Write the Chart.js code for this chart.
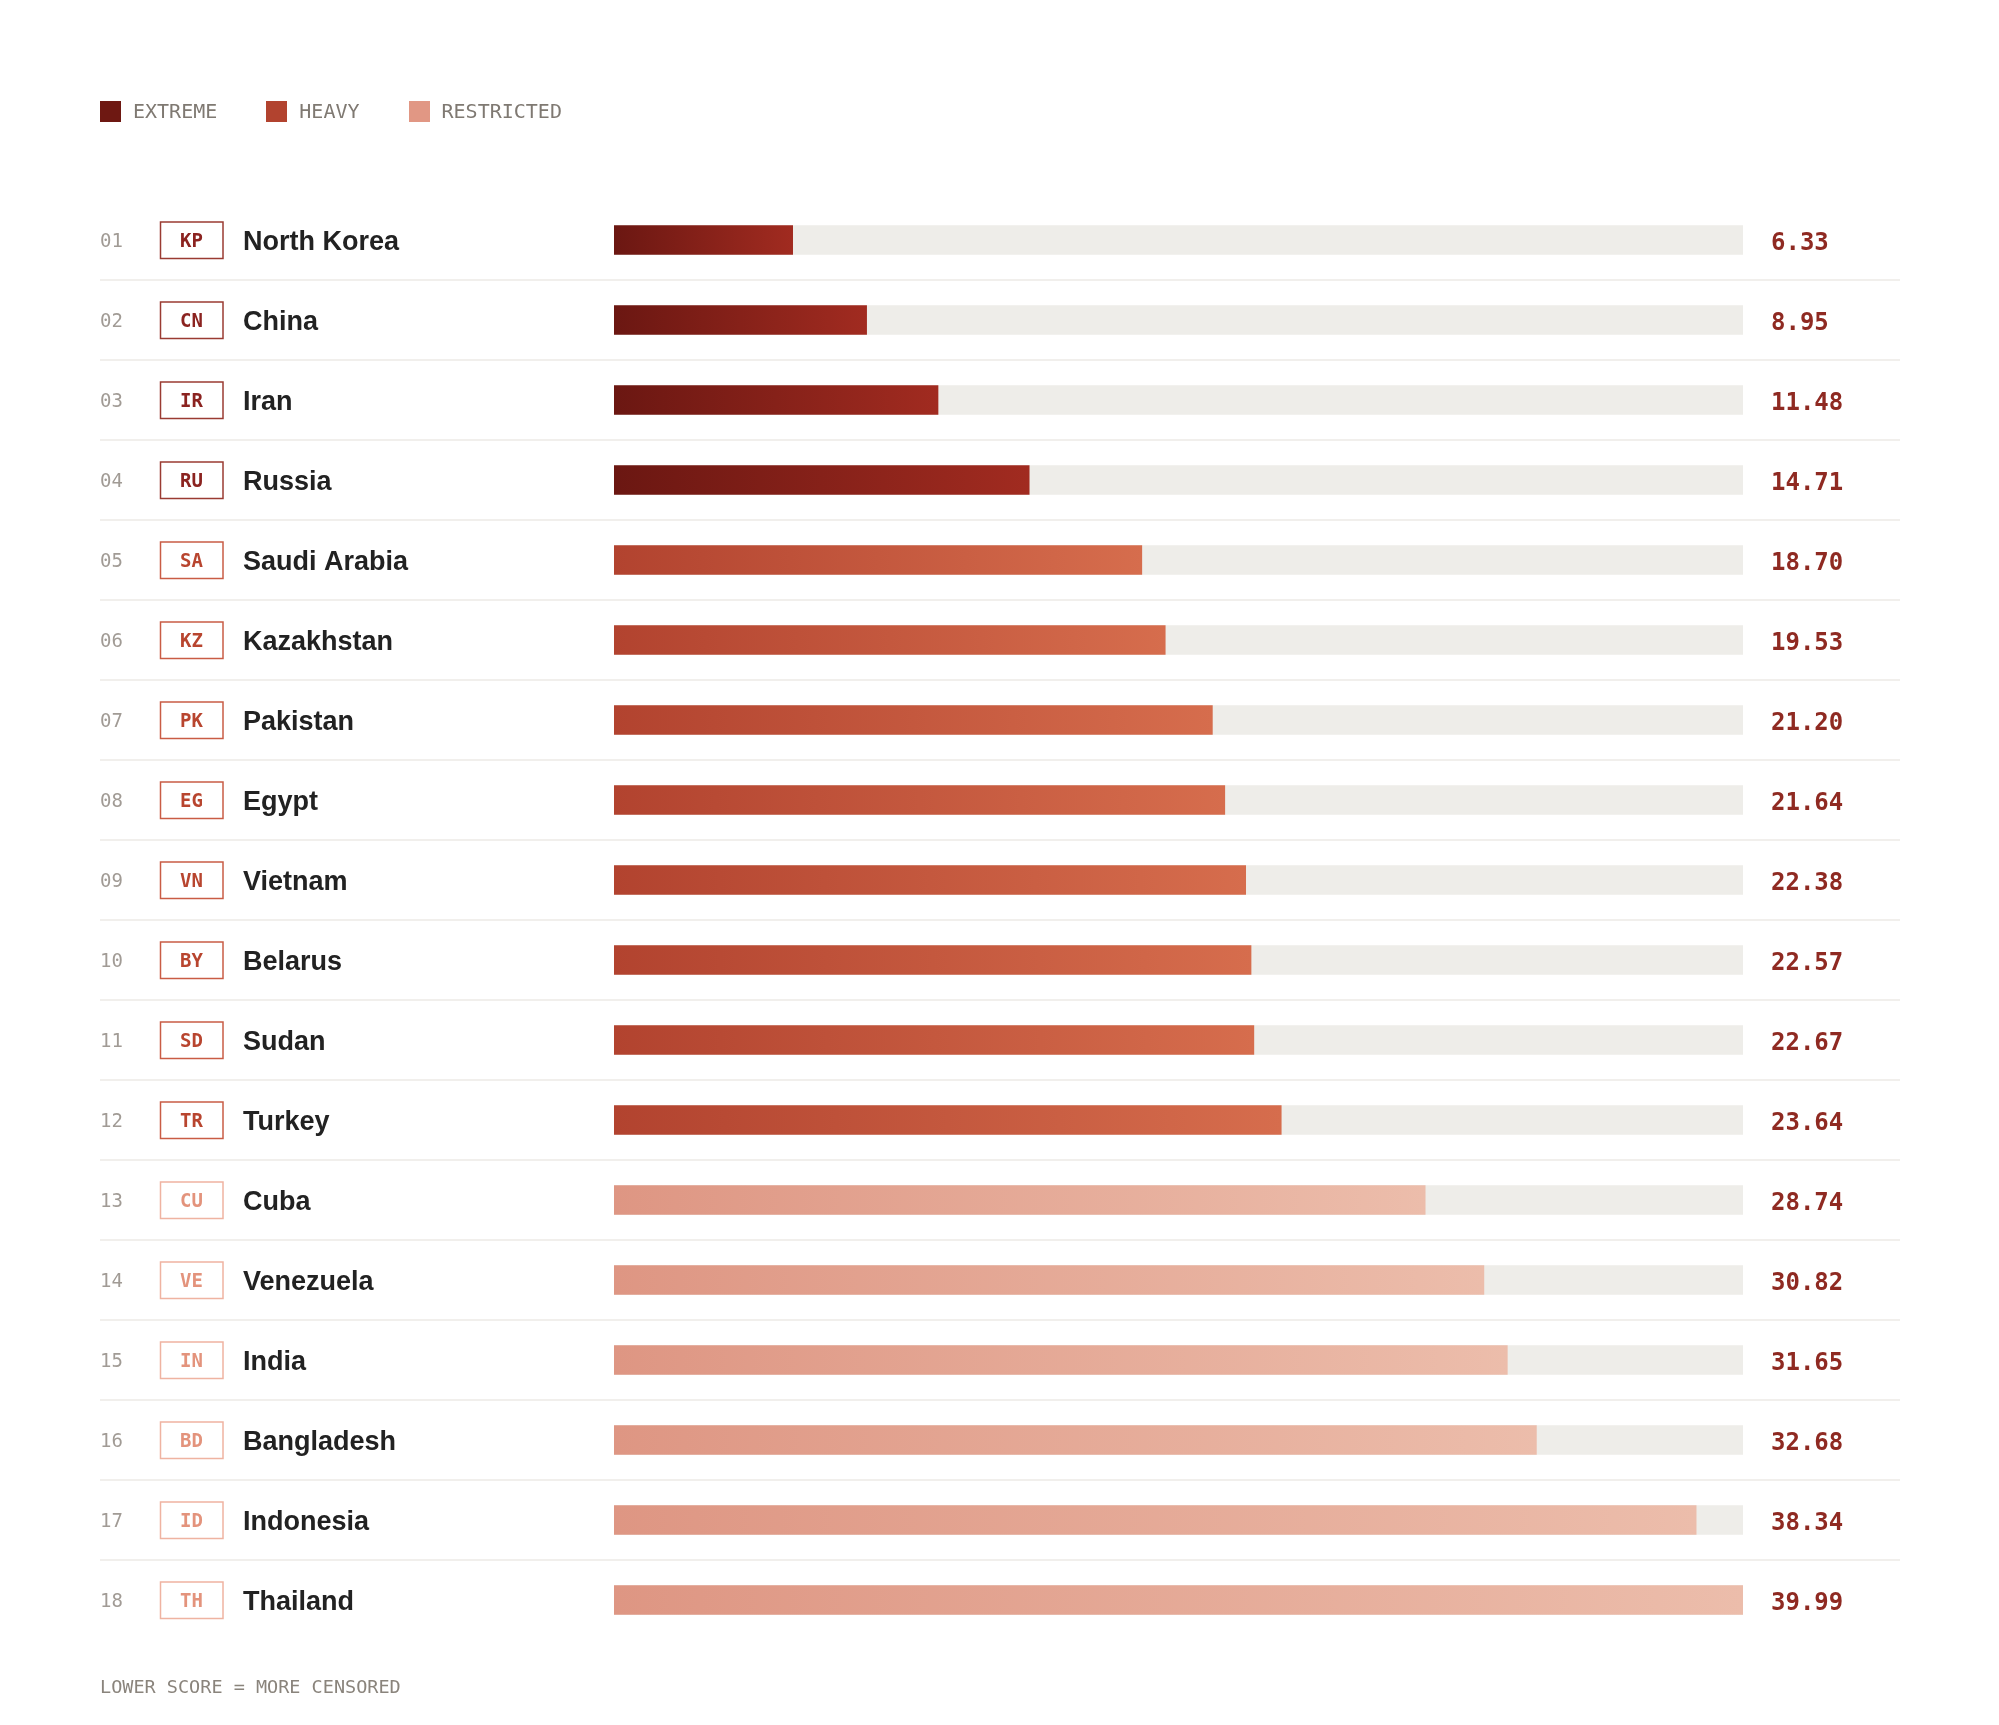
<!DOCTYPE html>
<html>
<head>
<meta charset="utf-8">
<script src="https://cdn.jsdelivr.net/npm/chart.js@4.4.1/dist/chart.umd.min.js"></script>
<style>
  html, body { margin: 0; padding: 0; background: #fff; }
  #wrap { position: relative; width: 1999px; height: 1725px; }
  #chart { position: absolute; left: 0; top: 0; }
  .legend { position: absolute; left: 100px; top: 99px; display: flex; align-items: center;
    font-family: "DejaVu Sans Mono", monospace; font-size: 20px; color: #7f7972; }
  .legend .item { display: flex; align-items: center; margin-right: 49px; }
  .legend .sw { width: 21px; height: 21px; margin-right: 12px; }
  .note { position: absolute; left: 100px; top: 1676px; font-family: "DejaVu Sans Mono", monospace;
    font-size: 18.5px; color: #8a847c; }
</style>
</head>
<body>
<div id="wrap">
  <canvas id="chart" width="1999" height="1725"></canvas>
  <div class="legend" id="legend"></div>
  <div class="note">LOWER SCORE = MORE CENSORED</div>
</div>
<script>
  // Data
  const codes = ['KP', 'CN', 'IR', 'RU', 'SA', 'KZ', 'PK', 'EG', 'VN', 'BY', 'SD', 'TR', 'CU', 'VE', 'IN', 'BD', 'ID', 'TH'];
  const countries = ['North Korea', 'China', 'Iran', 'Russia', 'Saudi Arabia', 'Kazakhstan', 'Pakistan', 'Egypt', 'Vietnam',
    'Belarus', 'Sudan', 'Turkey', 'Cuba', 'Venezuela', 'India', 'Bangladesh', 'Indonesia', 'Thailand'];
  const scores = [6.33, 8.95, 11.48, 14.71, 18.70, 19.53, 21.20, 21.64, 22.38, 22.57, 22.67, 23.64, 28.74, 30.82, 31.65, 32.68, 38.34, 39.99];
  const tiers = [0, 0, 0, 0, 1, 1, 1, 1, 1, 1, 1, 1, 2, 2, 2, 2, 2, 2];
  const tierNames = ['EXTREME', 'HEAVY', 'RESTRICTED'];
  const scoreMax = 40;

  // Tier styles
  const tierStyle = [
    { swatch: '#6e1812', from: '#6b1712', to: '#a12b20', box: '#9a3b32', text: '#8b2320' },
    { swatch: '#b2432f', from: '#b2432f', to: '#d66d4d', box: '#c95c45', text: '#b8452f' },
    { swatch: '#e19784', from: '#de9683', to: '#ecbdab', box: '#efb3a1', text: '#e3937c' }
  ];

  // Legend
  const legend = document.getElementById('legend');
  tierNames.forEach((name, i) => {
    const item = document.createElement('div');
    item.className = 'item';
    item.innerHTML = '<span class="sw" style="background:' + tierStyle[i].swatch + '"></span>' + name;
    legend.appendChild(item);
  });

  // Row decorations: separators, rank, code box, name, value
  const rowsPlugin = {
    id: 'rows',
    beforeDatasetsDraw(chart) {
      const ctx = chart.ctx;
      const y = chart.scales.y;
      ctx.save();
      ctx.strokeStyle = '#f1efec';
      ctx.lineWidth = 2;
      for (let i = 0; i < codes.length - 1; i++) {
        const yy = Math.round((y.getPixelForValue(i) + y.getPixelForValue(i + 1)) / 2);
        ctx.beginPath();
        ctx.moveTo(100, yy);
        ctx.lineTo(1900, yy);
        ctx.stroke();
      }
      ctx.restore();
    },
    afterDatasetsDraw(chart) {
      const ctx = chart.ctx;
      const y = chart.scales.y;
      const x = chart.scales.x;
      ctx.save();
      codes.forEach((code, i) => {
        const c = y.getPixelForValue(i);
        const st = tierStyle[tiers[i]];

        // rank
        ctx.font = '19px "DejaVu Sans Mono"';
        ctx.fillStyle = '#a19b95';
        ctx.textAlign = 'left';
        ctx.textBaseline = 'alphabetic';
        ctx.fillText(String(i + 1).padStart(2, '0'), 100, c + 7);

        // code box
        ctx.strokeStyle = st.box;
        ctx.lineWidth = 1.5;
        ctx.strokeRect(160.5, c - 18, 62.5, 36.5);
        ctx.font = 'bold 19px "DejaVu Sans Mono"';
        ctx.fillStyle = st.text;
        ctx.textAlign = 'center';
        ctx.fillText(code, 191.5, c + 7.2);

        // country name
        ctx.font = 'bold 27px "Liberation Sans", Arial, sans-serif';
        ctx.fillStyle = '#222222';
        ctx.textAlign = 'left';
        ctx.fillText(countries[i], 243, c + 9.6);

        // value
        ctx.font = 'bold 24px "DejaVu Sans Mono"';
        ctx.fillStyle = '#8f2a22';
        ctx.fillText(scores[i].toFixed(2), x.right + 28, c + 10);
      });
      ctx.restore();
    }
  };

  function barGradient(context) {
    const chart = context.chart;
    const st = tierStyle[tiers[context.dataIndex]];
    if (!chart.chartArea || !chart.scales.x) return st.from;
    const x0 = chart.scales.x.getPixelForValue(0);
    const x1 = chart.scales.x.getPixelForValue(context.raw);
    const g = chart.ctx.createLinearGradient(x0, 0, x1, 0);
    g.addColorStop(0, st.from);
    g.addColorStop(1, st.to);
    return g;
  }

  new Chart(document.getElementById('chart'), {
    type: 'bar',
    data: {
      labels: countries,
      datasets: [
        {
          label: 'Score',
          data: scores,
          backgroundColor: barGradient,
          borderWidth: 0,
          barThickness: 29,
          grouped: false,
          order: 1
        },
        {
          label: 'Track',
          data: codes.map(() => scoreMax),
          backgroundColor: '#eeede9',
          borderWidth: 0,
          barThickness: 29,
          grouped: false,
          order: 2
        }
      ]
    },
    options: {
      indexAxis: 'y',
      responsive: false,
      animation: false,
      layout: { padding: { left: 614, right: 256, top: 200, bottom: 85 } },
      scales: {
        x: { display: false, min: 0, max: scoreMax, grid: { display: false } },
        y: { display: false, grid: { display: false } }
      },
      plugins: { legend: { display: false }, tooltip: { enabled: false } }
    },
    plugins: [rowsPlugin]
  });
</script>
</body>
</html>
